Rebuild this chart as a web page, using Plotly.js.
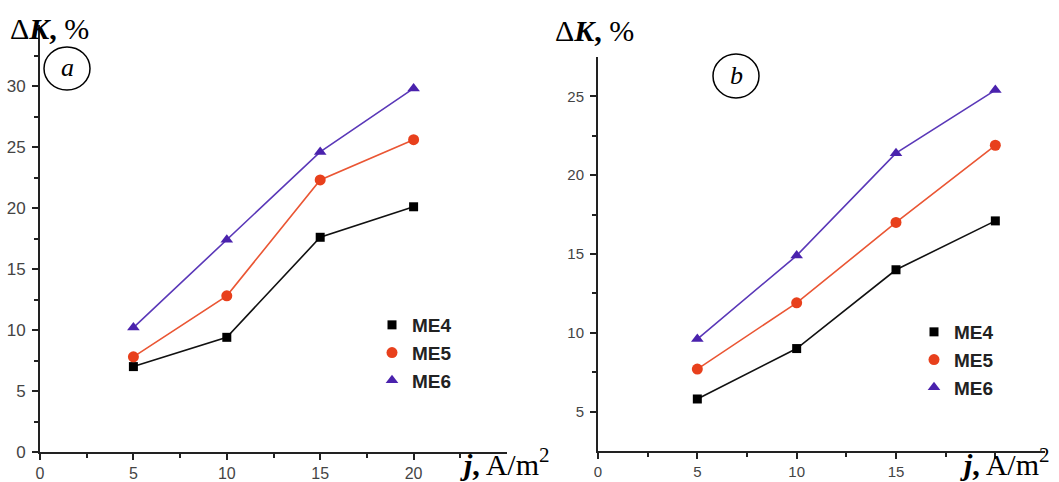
<!DOCTYPE html>
<html>
<head>
<meta charset="utf-8">
<script src="https://cdn.plot.ly/plotly-3.0.1.min.js"></script>
<style>html,body{margin:0;padding:0;background:#fff}#chart{width:1059px;height:482px}</style>
</head>
<body>
<div id="chart"></div>
<script>
// Current density j, A/m^2
var currentDensity = [5, 10, 15, 20];
var seriesNames = ["ME4", "ME5", "ME6"];
// Panel a values, %
var panelA_ME4 = [7.0, 9.4, 17.6, 20.1];
var panelA_ME5 = [7.8, 12.8, 22.3, 25.6];
var panelA_ME6 = [10.2, 17.4, 24.6, 29.8];
// Panel b values, %
var panelB_ME4 = [5.8, 9.0, 14.0, 17.1];
var panelB_ME5 = [7.7, 11.9, 17.0, 21.9];
var panelB_ME6 = [9.6, 14.9, 21.4, 25.4];
// Tick labels
var aXTicks = [0, 5, 10, 15, 20];
var aYTicks = [0, 5, 10, 15, 20, 25, 30];
var bXTicks = [0, 5, 10, 15, 20];
var bXTickText = ["0", "5", "10", "15", " "];
var bYTicks = [5, 10, 15, 20, 25];

var W = 1059, H = 482;
function px(x){ return x / W; }
function py(y){ return 1 - y / H; }

var markerStyles = [
  {symbol: "square", size: 9, color: "#000000"},
  {symbol: "circle", size: 11, color: "#e8401c"},
  {symbol: "triangle-up", size: 11, color: "#4a22ad"}
];
var lineColors = ["#111111", "#ea5634", "#5a38b8"];

var panelA = [panelA_ME4, panelA_ME5, panelA_ME6];
var panelB = [panelB_ME4, panelB_ME5, panelB_ME6];

var traces = [];
function addPanel(vals, xa, ya, legendId) {
  for (var i = 0; i < 3; i++) {
    traces.push({
      x: currentDensity, y: vals[i], xaxis: xa, yaxis: ya,
      mode: "lines+markers", name: seriesNames[i], showlegend: false,
      line: {color: lineColors[i], width: 1.6},
      marker: {symbol: markerStyles[i].symbol, size: markerStyles[i].size, color: markerStyles[i].color},
      hoverinfo: "x+y+name"
    });
  }
  for (var i = 0; i < 3; i++) {
    traces.push({
      x: [null], y: [null], xaxis: xa, yaxis: ya,
      mode: "markers", name: seriesNames[i], legend: legendId,
      marker: {symbol: markerStyles[i].symbol, size: markerStyles[i].size, color: markerStyles[i].color}
    });
  }
}
addPanel(panelA, "x", "y", "legend");
addPanel(panelB, "x2", "y2", "legend2");

var fontAx = {family: "Liberation Sans, Arial, sans-serif", size: 16, color: "#444"};
var fontAy = {family: "Liberation Sans, Arial, sans-serif", size: 17, color: "#444"};
var fontB = {family: "Liberation Sans, Arial, sans-serif", size: 15, color: "#444"};
var axisCommon = {
  showline: true, linecolor: "#222", linewidth: 2, mirror: false,
  ticks: "outside", ticklen: 6, tickwidth: 2, tickcolor: "#222",
  showgrid: false, zeroline: false, fixedrange: true,
  tickmode: "array"
};
function ax(extra){ var o = {}; for (var k in axisCommon) o[k] = axisCommon[k]; for (var k in extra) o[k] = extra[k]; return o; }
function minorTicks(vals){ return {tickvals: vals, ticklen: 4, tickwidth: 1.5, tickcolor: "#222", ticks: "outside"}; }

var legendFont = {family: "Liberation Sans, Arial, sans-serif", size: 19, color: "#222", weight: "bold"};
var serif = "Liberation Serif, Times New Roman, serif";

var layout = {
  width: W, height: H,
  margin: {l: 0, r: 0, t: 0, b: 0},
  paper_bgcolor: "#fff", plot_bgcolor: "#fff",
  xaxis: ax({domain: [px(40), px(507)], range: [0, 25], anchor: "y", tickvals: aXTicks, tickfont: fontAx, ticklabelstandoff: 0,
    minor: minorTicks([2.5, 7.5, 12.5, 17.5, 22.5])}),
  yaxis: ax({domain: [py(452), py(25)], range: [0, 35], anchor: "x", tickvals: aYTicks, tickfont: fontAy, ticklabelstandoff: 3,
    minor: minorTicks([2.5, 7.5, 12.5, 17.5, 22.5, 27.5, 32.5])}),
  xaxis2: ax({domain: [px(598), px(1045)], range: [0, 22.5], anchor: "y2", tickvals: bXTicks, ticktext: bXTickText, tickfont: fontB, ticklabelstandoff: 0,
    minor: minorTicks([2.5, 7.5, 12.5, 17.5])}),
  yaxis2: ax({domain: [py(451), py(57)], range: [2.5, 27.5], anchor: "x2", tickvals: bYTicks, tickfont: fontB, ticklabelstandoff: 3,
    minor: minorTicks([7.5, 12.5, 17.5, 22.5])}),
  legend: {x: px(372), y: py(306), xanchor: "left", yanchor: "top", bgcolor: "rgba(0,0,0,0)",
    font: legendFont, tracegroupgap: 0, itemclick: false, itemdoubleclick: false},
  legend2: {x: px(914), y: py(313), xanchor: "left", yanchor: "top", bgcolor: "rgba(0,0,0,0)",
    font: legendFont, tracegroupgap: 0, itemclick: false, itemdoubleclick: false},
  shapes: [
    {type: "circle", xref: "paper", yref: "paper", x0: px(44), x1: px(90), y0: py(47), y1: py(90), line: {color: "#000", width: 1.5}},
    {type: "circle", xref: "paper", yref: "paper", x0: px(713), x1: px(759), y0: py(54), y1: py(98), line: {color: "#000", width: 1.5}}
  ],
  annotations: [
    {xref: "paper", yref: "paper", x: px(8), y: py(28), xanchor: "left", yanchor: "middle", showarrow: false,
     text: "Δ<b><i>K</i>,</b> %", font: {family: serif, size: 30, color: "#000"}},
    {xref: "paper", yref: "paper", x: px(553), y: py(30), xanchor: "left", yanchor: "middle", showarrow: false,
     text: "Δ<b><i>K</i>,</b> %", font: {family: serif, size: 30, color: "#000"}},
    {xref: "paper", yref: "paper", x: px(458), y: py(462), xanchor: "left", yanchor: "middle", showarrow: false,
     text: "<b><i>j</i>,</b> A/m<sup>2</sup>", font: {family: serif, size: 30, color: "#000"}},
    {xref: "paper", yref: "paper", x: px(958), y: py(462), xanchor: "left", yanchor: "middle", showarrow: false,
     text: "<b><i>j</i>,</b> A/m<sup>2</sup>", font: {family: serif, size: 30, color: "#000"}},
    {xref: "paper", yref: "paper", x: px(67), y: py(68), xanchor: "center", yanchor: "middle", showarrow: false,
     text: "<i>a</i>", font: {family: serif, size: 26, color: "#000"}},
    {xref: "paper", yref: "paper", x: px(736), y: py(75), xanchor: "center", yanchor: "middle", showarrow: false,
     text: "<i>b</i>", font: {family: serif, size: 26, color: "#000"}}
  ]
};

Plotly.newPlot("chart", traces, layout, {displayModeBar: false, responsive: false});
</script>
</body>
</html>
